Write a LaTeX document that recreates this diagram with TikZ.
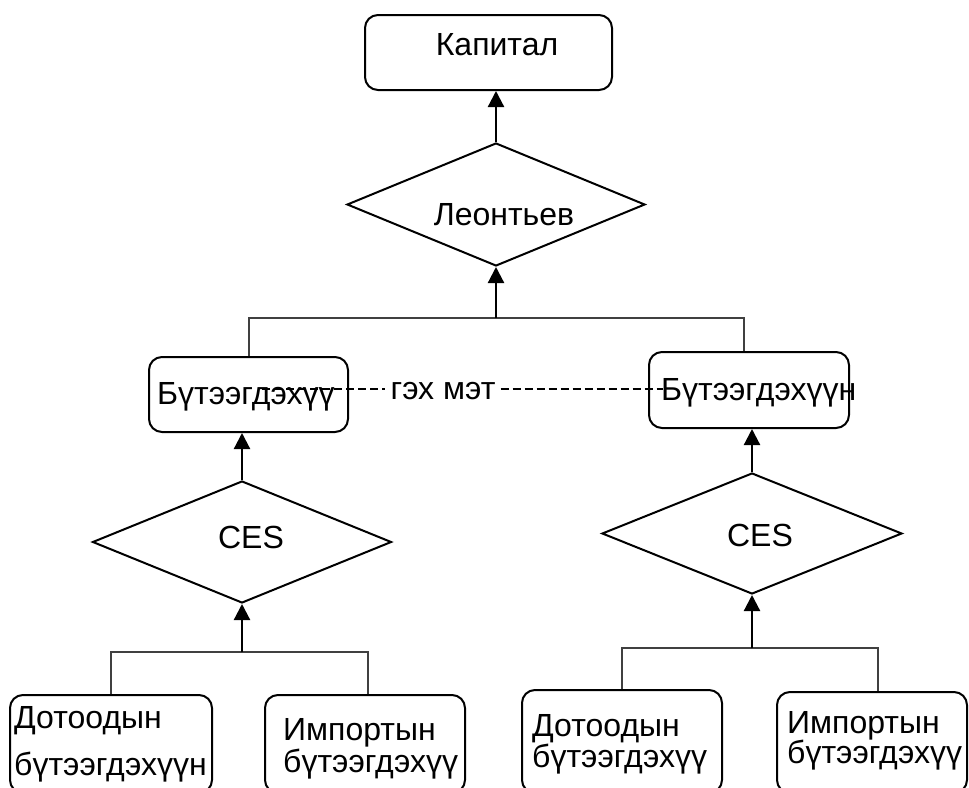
\documentclass[tikz,border=0pt]{standalone}
\usepackage{fontspec}
\setmainfont{Liberation Sans}
\usetikzlibrary{shapes.geometric,arrows.meta}
\begin{document}
\begin{tikzpicture}[x=1pt,y=-1pt,
  box/.style={draw=black,line width=2pt,rounded corners=13pt,inner sep=0pt},
  dia/.style={draw=black,line width=2pt,diamond,inner sep=0pt},
  txt/.style={inner sep=0pt,font=\fontsize{32}{38}\selectfont},
  arr/.style={line width=2.2pt,-{Triangle[length=16pt,width=16pt]}},
  conn/.style={line width=1.1pt,draw=black!75},
  dsh/.style={line width=1.8pt,dash pattern=on 8pt off 4pt}]
\clip (0,0) rectangle (969,787);
\fill[white] (0,0) rectangle (969,787);

% boxes
\node[box,minimum width=247pt,minimum height=75pt] (kap) at (488.5,52.5) {};
\node[box,minimum width=199pt,minimum height=75pt] (lb) at (248.5,394.5) {};
\node[box,minimum width=200pt,minimum height=76pt] (rb) at (749,390) {};
\node[box,minimum width=202pt,minimum height=98pt] (b1) at (111,744) {};
\node[box,minimum width=200pt,minimum height=98pt] (b2) at (365,744) {};
\node[box,minimum width=200pt,minimum height=103pt] (b3) at (622,741.5) {};
\node[box,minimum width=190pt,minimum height=101pt] (b4) at (872,742.5) {};

% diamonds
\node[dia,minimum width=298pt,minimum height=123pt] (leo) at (496,204.5) {};
\node[dia,minimum width=299pt,minimum height=122pt] (cesl) at (242,542) {};
\node[dia,minimum width=300pt,minimum height=121pt] (cesr) at (752,533.5) {};

% texts
\node[txt,anchor=base] (tkap) at (497,55) {Капитал};
\node[txt,anchor=base] (tleo) at (504,225) {Леонтьев};
\node[txt,anchor=base] (tcesl) at (251,548) {CES};
\node[txt,anchor=base] (tcesr) at (760,546) {CES};
\node[txt,anchor=base west] (tlb) at (157,404) {Бүтээгдэхүү};
\node[txt,anchor=base west] (trb) at (661,400) {Бүтээгдэхүүн};
\node[txt,anchor=base west] (t1a) at (14,728) {Дотоодын};
\node[txt,anchor=base west] (t1b) at (14,775) {бүтээгдэхүүн};
\node[txt,anchor=base west] (t2a) at (283,740) {Импортын};
\node[txt,anchor=base west] (t2b) at (283,772) {бүтээгдэхүү};
\node[txt,anchor=base west] (t3a) at (532,736) {Дотоодын};
\node[txt,anchor=base west] (t3b) at (532,767) {бүтээгдэхүү};
\node[txt,anchor=base west] (t4a) at (787,733) {Импортын};
\node[txt,anchor=base west] (t4b) at (787,763) {бүтээгдэхүү};

% dashed "гэх мэт"
\node[txt,inner xsep=5pt,anchor=base] (gex) at (443,399) {гэх мэт};
\coordinate (dl) at (262,389);
\coordinate (dr) at (663,389);
\draw[dsh] (dl) -- (dl -| gex.west);
\draw[dsh] (dr -| gex.east) -- (dr);

% junction coordinates
\coordinate (j0) at (496,318);
\coordinate (hl) at (249,318);
\coordinate (hr) at (744,318);
\coordinate (j1) at (242,652);
\coordinate (bl1) at (111,652);
\coordinate (bl2) at (368,652);
\coordinate (j2) at (752,648);
\coordinate (br1) at (622,648);
\coordinate (br2) at (878,648);

% thin connectors
\draw[conn] (hl |- lb.north) -- (hl) -- (hr) -- (hr |- rb.north);
\draw[conn] (bl1 |- b1.north) -- (bl1) -- (bl2) -- (bl2 |- b2.north);
\draw[conn] (br1 |- b3.north) -- (br1) -- (br2) -- (br2 |- b4.north);

% arrows
\draw[arr] (leo.north) -- (leo.north |- kap.south);
\draw[arr] (j0) -- (leo.south);
\draw[arr] (cesl.north) -- (cesl.north |- lb.south);
\draw[arr] (j1) -- (cesl.south);
\draw[arr] (cesr.north) -- (cesr.north |- rb.south);
\draw[arr] (j2) -- (cesr.south);
\end{tikzpicture}
\end{document}
